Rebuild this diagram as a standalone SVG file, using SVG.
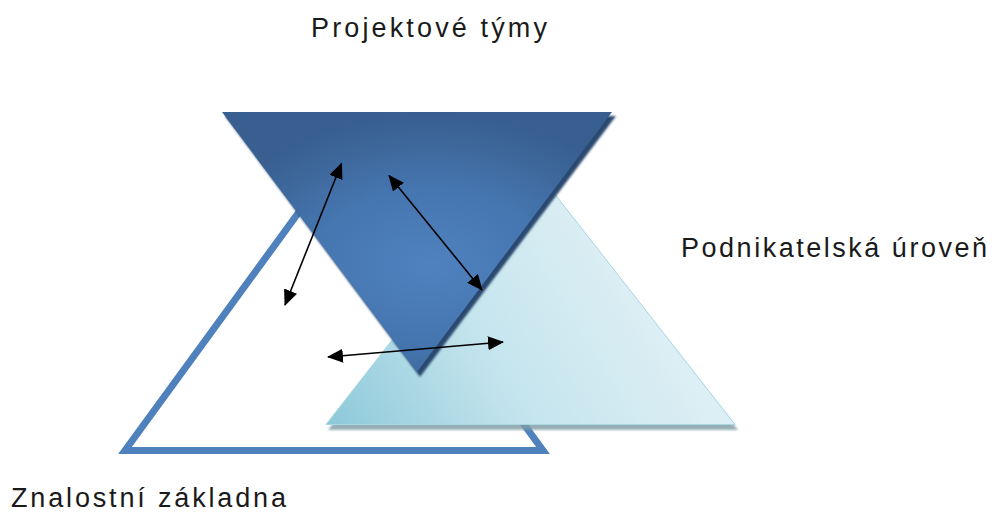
<svg xmlns="http://www.w3.org/2000/svg" width="992" height="515" viewBox="0 0 992 515">
  <defs>
    <style>
      .label { font-family: "Liberation Sans", "Open Sans", sans-serif; font-size: 27px; fill: #1a1a1a; }
      .arrow { stroke: #000; stroke-width: 1.6; fill: none; marker-start: url(#head); marker-end: url(#head); }
    </style>
    <marker id="head" viewBox="0 0 16 14" refX="15" refY="7" markerWidth="16" markerHeight="14" markerUnits="userSpaceOnUse" orient="auto-start-reverse">
      <path d="M0,0 L16,7 L0,14 Z" fill="#000"/>
    </marker>
    <radialGradient id="darkGrad" gradientUnits="userSpaceOnUse" cx="0" cy="0" r="1" gradientTransform="translate(430,265) scale(230,150)">
      <stop offset="0" stop-color="#4f82bf"/>
      <stop offset="0.5" stop-color="#4676b0"/>
      <stop offset="1" stop-color="#385f8f"/>
    </radialGradient>
    <linearGradient id="lightGrad" gradientUnits="userSpaceOnUse" x1="340" y1="430" x2="620" y2="260">
      <stop offset="0" stop-color="#8fcada"/>
      <stop offset="0.5" stop-color="#c4e4ed"/>
      <stop offset="1" stop-color="#dcEFF4"/>
    </linearGradient>
    <filter id="soft" x="-10%" y="-10%" width="120%" height="120%">
      <feGaussianBlur stdDeviation="1.2"/>
    </filter>
  </defs>

  <g id="znalostni-zakladna">
    <polygon points="125,450.5 543,450.5 334,164" fill="#ffffff" stroke="#4f81bd" stroke-width="7" stroke-linejoin="miter"/>
    <text class="label" x="11" y="507" textLength="275" lengthAdjust="spacing">Znalostní základna</text>
  </g>

  <g id="podnikatelska-uroven">
    <polygon points="328,430 738,430 532,168" fill="#7d9ca6" opacity="0.8" filter="url(#soft)"/>
    <polygon points="326,424.5 735,424.5 530.5,163" fill="url(#lightGrad)" stroke="#a9d7e2" stroke-width="1"/>
    <text class="label" x="681" y="257" textLength="306" lengthAdjust="spacing">Podnikatelská úroveň</text>
  </g>

  <g id="projektove-tymy">
    <polygon points="225,116 616,116 420,377" fill="#2c4a70" filter="url(#soft)"/>
    <polygon points="222,112 612,112 417,372" fill="url(#darkGrad)"/>
    <text class="label" x="311" y="37" textLength="236" lengthAdjust="spacing">Projektové týmy</text>
  </g>

  <g id="connectors">
    <line class="arrow" x1="285" y1="305" x2="341.5" y2="163.5"/>
    <line class="arrow" x1="389" y1="175.5" x2="482" y2="290"/>
    <line class="arrow" x1="328" y1="357" x2="503" y2="342"/>
  </g>
</svg>
